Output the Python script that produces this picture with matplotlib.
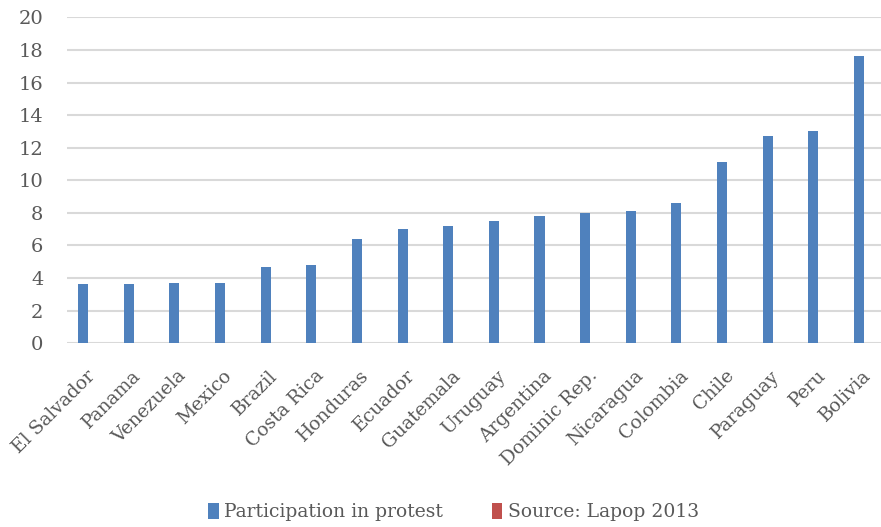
import matplotlib
matplotlib.use("Agg")
import matplotlib.pyplot as plt
import matplotlib.transforms as mtransforms
import numpy as np

countries = ["El Salvador", "Panama", "Venezuela", "Mexico", "Brazil", "Costa Rica",
             "Honduras", "Ecuador", "Guatemala", "Uruguay", "Argentina", "Dominic Rep.",
             "Nicaragua", "Colombia", "Chile", "Paraguay", "Peru", "Bolivia"]
protest = [3.6, 3.6, 3.7, 3.7, 4.7, 4.8, 6.4, 7.0, 7.2, 7.5, 7.8, 8.0,
           8.1, 8.6, 11.1, 12.7, 13.0, 17.6]
yticks = [0, 2, 4, 6, 8, 10, 12, 14, 16, 18, 20]

plt.rcParams['font.family'] = ['DejaVu Serif', 'Liberation Serif']

fig = plt.figure(figsize=(8.81, 5.27), dpi=100)
ax = fig.add_axes([0.076, 0.349, 0.924, 0.618])

x = np.arange(len(countries))
ax.bar(x, protest, width=0.22, color='#4F81BD', label='Participation in protest', zorder=3)
# empty series only used for the legend entry
ax.bar([0], [0], width=0, color='#C0504D', label='Source: Lapop 2013')

ax.set_ylim(0, 20)
ax.set_xlim(-0.35, 17.48)
ax.set_yticks(yticks)
ax.yaxis.grid(True, color='#D9D9D9', linewidth=1.5, zorder=0)
ax.set_axisbelow(True)
for s in ['top', 'right', 'left', 'bottom']:
    ax.spines[s].set_visible(False)
ax.tick_params(length=0, labelsize=14, colors='#595959')
ax.tick_params(axis='y', pad=17)
ax.set_xticks(x)
ax.set_xticklabels(countries, rotation=45, ha='right', rotation_mode='anchor', fontsize=13.5)
ax.tick_params(axis='x', pad=17)
shift = mtransforms.ScaledTranslation(3 / 100, 0, fig.dpi_scale_trans)
for lab in ax.get_xticklabels():
    lab.set_transform(lab.get_transform() + shift)

leg = fig.legend(loc='center', bbox_to_anchor=(0.515, 0.028), ncol=2, frameon=False,
                 fontsize=13.5, handlelength=0.55, handleheight=0.9, handletextpad=0.3,
                 columnspacing=2.6, labelcolor='#595959')

fig.savefig("out.png", dpi=100)
